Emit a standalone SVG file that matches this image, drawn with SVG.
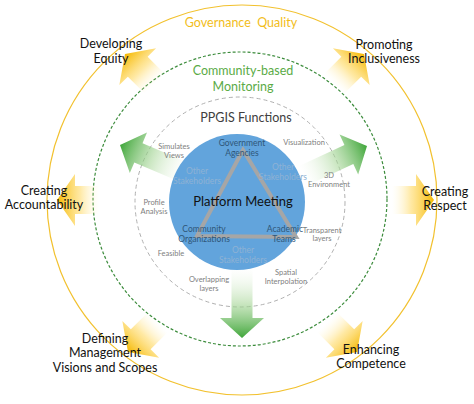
<svg xmlns="http://www.w3.org/2000/svg" width="474" height="404" viewBox="0 0 474 404">
  <defs>
    <linearGradient id="gy" x1="0" y1="0" x2="1" y2="0">
      <stop offset="0" stop-color="#fff3c4" stop-opacity="0"/>
      <stop offset="0.45" stop-color="#ffd75a" stop-opacity="0.55"/>
      <stop offset="1" stop-color="#f5b800"/>
    </linearGradient>
    <linearGradient id="gg" x1="0" y1="0" x2="1" y2="0">
      <stop offset="0" stop-color="#e4f2dc" stop-opacity="0"/>
      <stop offset="0.5" stop-color="#a9d79a" stop-opacity="0.6"/>
      <stop offset="1" stop-color="#3fa63a"/>
    </linearGradient>
    <path id="ya" d="M0,-14 H24 V-26 L42,0 L24,26 V14 H0 Z" fill="url(#gy)"/>
    <path id="ga" d="M0,-10.5 H50 V-22 L70,0 L50,22 V10.5 H0 Z" fill="url(#gg)"/>
  </defs>
  <style>
    text { font-family: Lato, "Liberation Sans", sans-serif; text-anchor: middle; }
    .outer { font-size: 12.5px; fill: #111; }
    .ring { font-size: 7.5px; fill: #808080; }
    .agent { font-size: 8.5px; fill: #2f5678; }
    .other { font-size: 8.5px; fill: #8eb2d4; }
  </style>
  <rect width="474" height="404" fill="#ffffff"/>

  <g id="rings">
    <circle cx="242" cy="200" r="195" fill="none" stroke="#f2c12e" stroke-width="1.2"/>
    <circle cx="240" cy="199" r="147" fill="none" stroke="#3c8c3c" stroke-width="1.2" stroke-dasharray="3 2"/>
    <circle cx="240" cy="202" r="105" fill="none" stroke="#b0b0b0" stroke-width="1" stroke-dasharray="4 3"/>
  </g>

  <g id="connectors">
    <use href="#ya" transform="translate(125,54) rotate(-135) translate(-42,0)"/>
    <use href="#ya" transform="translate(364,54) rotate(-45) translate(-42,0)"/>
    <use href="#ya" transform="translate(57,200) rotate(180) translate(-42,0)"/>
    <use href="#ya" transform="translate(434,200) rotate(0) translate(-42,0)"/>
    <use href="#ya" transform="translate(128,352) rotate(135) translate(-42,0)"/>
    <use href="#ya" transform="translate(357,352) rotate(45) translate(-42,0)"/>
    <use href="#ga" transform="translate(120,145) rotate(-157) translate(-70,0)"/>
    <use href="#ga" transform="translate(367,146) rotate(-25) translate(-70,0)"/>
    <use href="#ga" transform="translate(242,338) rotate(90) translate(-70,0)"/>
  </g>

  <g id="platform">
    <circle cx="237" cy="202" r="68" fill="#62a4dc"/>
    <polygon points="243,150 197,236 296,237" fill="none" stroke="#a6a6a6" stroke-width="4" stroke-linejoin="miter"/>
    <text x="243" y="206" style="font-size:13px;fill:#111">Platform Meeting</text>
  </g>

  <g id="government">
    <text class="agent" x="242" y="146">Government</text>
    <text class="agent" x="242" y="156">Agencies</text>
  </g>
  <g id="community">
    <text class="agent" x="204" y="232">Community</text>
    <text class="agent" x="204" y="242">Organizations</text>
  </g>
  <g id="academic">
    <text class="agent" x="285" y="232">Academic</text>
    <text class="agent" x="284" y="242">Teams</text>
  </g>
  <g id="other-left">
    <text class="other" x="197" y="174">Other</text>
    <text class="other" x="197" y="184">Stakeholders</text>
  </g>
  <g id="other-right">
    <text class="other" x="283" y="170">Other</text>
    <text class="other" x="283" y="180">Stakeholders</text>
  </g>
  <g id="other-bottom">
    <text class="other" x="243" y="253">Other</text>
    <text class="other" x="243" y="263">Stakeholders</text>
  </g>

  <g id="ppgis">
    <text x="246" y="122" style="font-size:12.5px;fill:#404040">PPGIS Functions</text>
    <text class="ring" x="174" y="149">Simulates</text>
    <text class="ring" x="174" y="158">Views</text>
    <text class="ring" x="304" y="145">Visualization</text>
    <text class="ring" x="329" y="178">3D</text>
    <text class="ring" x="329" y="187">Environment</text>
    <text class="ring" x="154" y="205">Profile</text>
    <text class="ring" x="154" y="214">Analysis</text>
    <text class="ring" x="322" y="233">Transparent</text>
    <text class="ring" x="322" y="241">layers</text>
    <text class="ring" x="171" y="256">Feasible</text>
    <text class="ring" x="209" y="282">Overlapping</text>
    <text class="ring" x="209" y="291">layers</text>
    <text class="ring" x="286" y="275">Spatial</text>
    <text class="ring" x="286" y="284">Interpolation</text>
  </g>

  <g id="monitoring">
    <text x="243" y="75" style="font-size:12.5px;fill:#5aab46">Community-based</text>
    <text x="243" y="91" style="font-size:12.5px;fill:#5aab46">Monitoring</text>
  </g>
  <g id="governance">
    <text x="241" y="27" style="font-size:12.5px;fill:#f2bd1a;white-space:pre" xml:space="preserve">Governance  Quality</text>
  </g>

  <g id="equity">
    <text class="outer" x="111" y="48">Developing</text>
    <text class="outer" x="111" y="63">Equity</text>
  </g>
  <g id="inclusiveness">
    <text class="outer" x="384" y="49">Promoting</text>
    <text class="outer" x="384" y="63">Inclusiveness</text>
  </g>
  <g id="accountability">
    <text class="outer" x="44" y="195">Creating</text>
    <text class="outer" x="44" y="209">Accountability</text>
  </g>
  <g id="respect">
    <text class="outer" x="445" y="196">Creating</text>
    <text class="outer" x="445" y="210">Respect</text>
  </g>
  <g id="management">
    <text class="outer" x="105" y="343">Defining</text>
    <text class="outer" x="105" y="357">Management</text>
    <text class="outer" x="105" y="372">Visions and Scopes</text>
  </g>
  <g id="competence">
    <text class="outer" x="371" y="354">Enhancing</text>
    <text class="outer" x="371" y="368">Competence</text>
  </g>
</svg>
